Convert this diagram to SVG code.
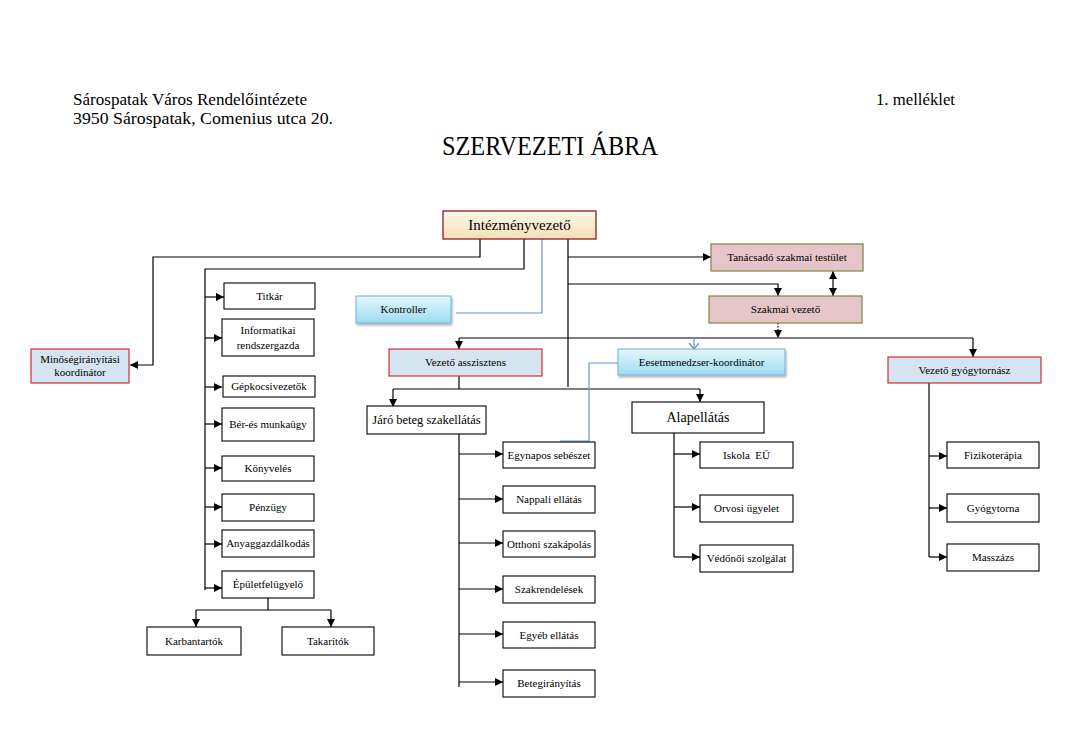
<svg xmlns="http://www.w3.org/2000/svg" width="1066" height="738" viewBox="0 0 1066 738">
<defs>
<linearGradient id="gCream" x1="0" y1="0" x2="0" y2="1"><stop offset="0" stop-color="#fdf8ea"/><stop offset="1" stop-color="#f5e0b8"/></linearGradient>
<linearGradient id="gBlue" x1="0" y1="0" x2="0" y2="1"><stop offset="0" stop-color="#e2f8fd"/><stop offset="1" stop-color="#9edbf1"/></linearGradient>
<marker id="ah" markerUnits="userSpaceOnUse" markerWidth="9" markerHeight="9" refX="8" refY="4" orient="auto-start-reverse"><path d="M0,0 L8,4 L0,8 z" fill="#000"/></marker>
<marker id="av" markerUnits="userSpaceOnUse" markerWidth="8" markerHeight="12" refX="6" refY="5" orient="auto"><path d="M0,0 L6,5 L0,10" fill="none" stroke="#5b8fc7" stroke-width="1.2"/></marker>
<filter id="sh" x="-10%" y="-20%" width="130%" height="160%"><feDropShadow dx="1" dy="2" stdDeviation="1.2" flood-color="#000" flood-opacity="0.3"/></filter>
</defs>
<style>
text{font-family:"Liberation Serif","DejaVu Serif",serif;fill:#000}
.hd{font-size:16px}
.lb{font-size:11px;text-anchor:middle}
.lm{font-size:12.5px;text-anchor:middle}
.bx{fill:#fff;stroke:#000;stroke-width:1.1}
.pk{fill:#e6c5c9;stroke:#8a8a4e;stroke-width:1.3}
.lbx{fill:#d6e4f2;stroke:#c8303a;stroke-width:1.2}
.bl{fill:url(#gBlue);stroke:#6fb2d2;stroke-width:1}
.cr{fill:url(#gCream);stroke:#8b1c1c;stroke-width:1.3}
.c{fill:none;stroke:#000;stroke-width:1.2}
.ca{fill:none;stroke:#000;stroke-width:1.2;marker-end:url(#ah)}
.cb{fill:none;stroke:#6a93c2;stroke-width:1.2}
</style>
<rect width="1066" height="738" fill="#fff"/>

<g id="header">
<text class="hd" x="73" y="105" textLength="234" lengthAdjust="spacingAndGlyphs">Sárospatak Város Rendelőintézete</text>
<text class="hd" x="73" y="124" textLength="260" lengthAdjust="spacingAndGlyphs">3950 Sárospatak, Comenius utca 20.</text>
<text class="hd" x="876" y="105" textLength="79" lengthAdjust="spacingAndGlyphs">1. melléklet</text>
<text x="442" y="155" font-size="28" textLength="216" lengthAdjust="spacingAndGlyphs">SZERVEZETI ÁBRA</text>
</g>

<g id="connectors">
<path class="ca" d="M480,239 V257 H153 V365 H130"/>
<path class="c" d="M524,239 V269 H205 V590"/>
<path class="ca" d="M205,297 H224"/>
<path class="ca" d="M205,338 H222"/>
<path class="ca" d="M205,387 H222"/>
<path class="ca" d="M205,424 H222"/>
<path class="ca" d="M205,468 H222"/>
<path class="ca" d="M205,507 H222"/>
<path class="ca" d="M205,544 H222"/>
<path class="ca" d="M205,588 H222"/>
<path class="c" d="M268,598 V610 M196,610 H331"/>
<path class="ca" d="M196,610 V627"/>
<path class="ca" d="M331,610 V627"/>
<path class="cb" d="M542,239 V313 H456"/>
<path class="c" d="M568,239 V387"/>
<path class="ca" d="M568,257 H711"/>
<path class="ca" d="M568,284 H778 V296"/>
<path class="ca" d="M833,271 V296" marker-start="url(#ah)"/>
<path class="ca" d="M778,323 V338" stroke-dasharray="1.5,1.5"/>
<path class="c" d="M459,338 H973"/>
<path class="ca" d="M459,338 V349"/>
<path class="ca" d="M973,338 V357"/>
<path class="cb" d="M694,338 V349" marker-end="url(#av)"/>
<path class="c" d="M459,376 V389 M393,389 H700"/>
<path class="ca" d="M393,389 V407"/>
<path class="ca" d="M700,389 V402"/>
<path class="cb" d="M618,363 H589 V441 H560"/>
<path class="c" d="M459,434 V687"/>
<path class="ca" d="M459,454 H503"/>
<path class="ca" d="M459,499 H503"/>
<path class="ca" d="M459,543 H503"/>
<path class="ca" d="M459,589 H503"/>
<path class="ca" d="M459,634 H503"/>
<path class="ca" d="M459,682 H503"/>
<path class="c" d="M674,433 V557"/>
<path class="ca" d="M674,454 H700"/>
<path class="ca" d="M674,507 H700"/>
<path class="ca" d="M674,557 H700"/>
<path class="c" d="M929,383 V557"/>
<path class="ca" d="M929,456 H947"/>
<path class="ca" d="M929,508 H947"/>
<path class="ca" d="M929,557 H947"/>
</g>

<g id="n-intezmenyvezeto"><rect class="cr" x="443" y="211" width="153" height="28"/><text x="519.5" y="230" font-size="15" text-anchor="middle">Intézményvezető</text></g>
<g id="n-tanacsado"><rect class="pk" x="711" y="244" width="152" height="27"/><text class="lb" x="787" y="261">Tanácsadó szakmai testület</text></g>
<g id="n-szakmai"><rect class="pk" x="709" y="296" width="153" height="27"/><text class="lb" x="785.5" y="313">Szakmai vezető</text></g>
<g id="n-kontroller"><rect class="bl" filter="url(#sh)" x="356" y="296" width="95" height="27"/><text class="lb" x="403.5" y="313">Kontroller</text></g>
<g id="n-minoseg"><rect class="lbx" x="31" y="349" width="98" height="34"/><text class="lb" x="80" y="363" font-size="10">Minőségirányítási</text><text class="lb" x="80" y="376" font-size="10">koordinátor</text></g>

<g id="n-titkar"><rect class="bx" x="224" y="283" width="91" height="26"/><text class="lb" x="269.5" y="300">Titkár</text></g>
<g id="n-informatikai"><rect class="bx" x="222" y="319" width="92" height="37"/><text class="lb" x="268" y="334">Informatikai</text><text class="lb" x="268" y="349">rendszergazda</text></g>
<g id="n-gepkocsi"><rect class="bx" x="223" y="376" width="92" height="21"/><text class="lb" x="269" y="390">Gépkocsivezetők</text></g>
<g id="n-ber"><rect class="bx" x="222" y="408" width="92" height="33"/><text class="lb" x="268" y="428">Bér-és munkaügy</text></g>
<g id="n-konyveles"><rect class="bx" x="222" y="456" width="92" height="25"/><text class="lb" x="268" y="472">Könyvelés</text></g>
<g id="n-penzugy"><rect class="bx" x="222" y="494" width="92" height="27"/><text class="lb" x="268" y="511">Pénzügy</text></g>
<g id="n-anyag"><rect class="bx" x="222" y="530" width="92" height="27"/><text class="lb" x="268" y="547">Anyaggazdálkodás</text></g>
<g id="n-epulet"><rect class="bx" x="222" y="571" width="92" height="27"/><text class="lb" x="268" y="588">Épületfelügyelő</text></g>
<g id="n-karbantartok"><rect class="bx" x="147" y="627" width="94" height="28"/><text class="lb" x="194" y="645">Karbantartók</text></g>
<g id="n-takaritok"><rect class="bx" x="282" y="627" width="92" height="28"/><text class="lb" x="328" y="645">Takarítók</text></g>

<g id="n-vezeto-asszisztens"><rect class="lbx" x="389" y="349" width="153" height="27"/><text class="lb" x="465.5" y="366">Vezető asszisztens</text></g>
<g id="n-esetmenedzser"><rect class="bl" filter="url(#sh)" x="618" y="349" width="167" height="26"/><text class="lb" x="701.5" y="366">Eesetmenedzser-koordinátor</text></g>
<g id="n-vezeto-gyogytornasz"><rect class="lbx" x="888" y="357" width="153" height="26"/><text class="lb" x="964.5" y="374">Vezető gyógytornász</text></g>

<g id="n-jaro"><rect class="bx" x="367" y="406" width="119" height="28"/><text class="lm" x="426.5" y="424">Járó beteg szakellátás</text></g>
<g id="n-alapellatas"><rect class="bx" x="632" y="402" width="132" height="31"/><text x="698" y="422" font-size="14" text-anchor="middle">Alapellátás</text></g>

<g id="n-egynapos"><rect class="bx" x="503" y="442" width="92" height="26"/><text class="lb" x="549" y="459">Egynapos sebészet</text></g>
<g id="n-nappali"><rect class="bx" x="503" y="486" width="92" height="27"/><text class="lb" x="549" y="503">Nappali ellátás</text></g>
<g id="n-otthoni"><rect class="bx" x="503" y="531" width="92" height="26"/><text class="lb" x="549" y="548">Otthoni szakápolás</text></g>
<g id="n-szakrendelesek"><rect class="bx" x="503" y="576" width="92" height="27"/><text class="lb" x="549" y="593">Szakrendelések</text></g>
<g id="n-egyeb"><rect class="bx" x="503" y="622" width="92" height="26"/><text class="lb" x="549" y="639">Egyéb ellátás</text></g>
<g id="n-betegiranyitas"><rect class="bx" x="503" y="670" width="92" height="27"/><text class="lb" x="549" y="687">Betegirányítás</text></g>

<g id="n-iskola"><rect class="bx" x="700" y="442" width="93" height="26"/><text class="lb" x="746.5" y="459">Iskola&#160; EÜ</text></g>
<g id="n-orvosi"><rect class="bx" x="700" y="495" width="93" height="27"/><text class="lb" x="746.5" y="512">Orvosi ügyelet</text></g>
<g id="n-vedonoi"><rect class="bx" x="700" y="545" width="93" height="27"/><text class="lb" x="746.5" y="562">Védőnői szolgálat</text></g>

<g id="n-fizikoterapia"><rect class="bx" x="947" y="442" width="92" height="26"/><text class="lb" x="993" y="459">Fizikoterápia</text></g>
<g id="n-gyogytorna"><rect class="bx" x="947" y="494" width="92" height="28"/><text class="lb" x="993" y="512">Gyógytorna</text></g>
<g id="n-masszazs"><rect class="bx" x="947" y="544" width="92" height="27"/><text class="lb" x="993" y="561">Masszázs</text></g>
</svg>
